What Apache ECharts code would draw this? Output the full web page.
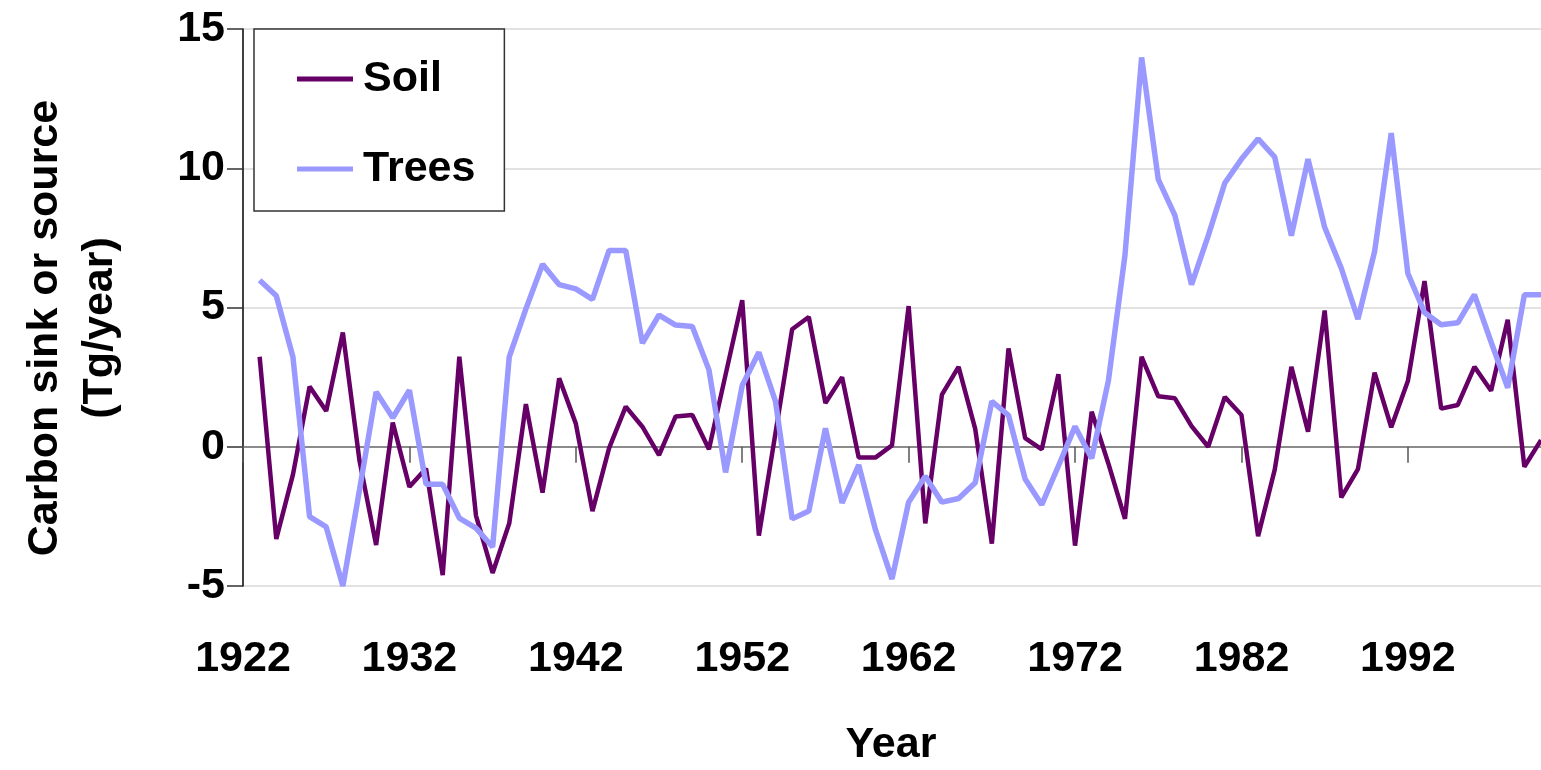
<!DOCTYPE html>
<html>
<head>
<meta charset="utf-8">
<script src="https://cdn.jsdelivr.net/npm/echarts@6/dist/echarts.min.js"></script>
<style>
  html, body { margin: 0; padding: 0; background: #fff; }
  #chart { width: 1541px; height: 770px; }
</style>
</head>
<body>
<div id="chart"></div>
<script>
// ---- Data ----
const years = [
  '1922','1923','1924','1925','1926','1927','1928','1929','1930','1931',
  '1932','1933','1934','1935','1936','1937','1938','1939','1940','1941',
  '1942','1943','1944','1945','1946','1947','1948','1949','1950','1951',
  '1952','1953','1954','1955','1956','1957','1958','1959','1960','1961',
  '1962','1963','1964','1965','1966','1967','1968','1969','1970','1971',
  '1972','1973','1974','1975','1976','1977','1978','1979','1980','1981',
  '1982','1983','1984','1985','1986','1987','1988','1989','1990','1991',
  '1992','1993','1994','1995','1996','1997','1998','1999','2000'
];
const soil = [
  null, 3.23, -3.31, -1.0, 2.16, 1.28, 4.10, -0.50, -3.53, 0.87,
  -1.44, -0.78, -4.61, 3.23, -2.47, -4.53, -2.75, 1.53, -1.65, 2.46,
  0.83, -2.31, -0.05, 1.44, 0.72, -0.30, 1.09, 1.14, -0.09, 2.59,
  5.26, -3.19, 0.50, 4.22, 4.66, 1.57, 2.50, -0.39, -0.39, 0.05,
  5.05, -2.75, 1.87, 2.87, 0.64, -3.48, 3.53, 0.31, -0.09, 2.60,
  -3.55, 1.26, -0.60, -2.59, 3.23, 1.81, 1.74, 0.74, 0.00, 1.79,
  1.14, -3.21, -0.82, 2.87, 0.54, 4.89, -1.82, -0.80, 2.66, 0.70,
  2.36, 5.95, 1.37, 1.50, 2.87, 2.01, 4.56, -0.72, 0.24
];
const trees = [
  null, 5.98, 5.42, 3.22, -2.51, -2.88, -5.00, -1.55, 1.97, 1.04,
  2.03, -1.35, -1.35, -2.56, -2.92, -3.60, 3.23, 4.95, 6.55, 5.82,
  5.67, 5.29, 7.05, 7.05, 3.72, 4.73, 4.37, 4.32, 2.76, -0.92,
  2.20, 3.39, 1.63, -2.59, -2.31, 0.66, -2.02, -0.65, -2.97, -4.75,
  -1.99, -1.06, -1.99, -1.86, -1.29, 1.63, 1.13, -1.16, -2.08, -0.69,
  0.73, -0.42, 2.36, 6.88, 13.98, 9.60, 8.31, 5.82, 7.57, 9.47,
  10.33, 11.06, 10.40, 7.58, 10.33, 7.88, 6.41, 4.58, 7.01, 11.26,
  6.22, 4.82, 4.38, 4.45, 5.46, 3.76, 2.12, 5.46, 5.46
];
const seriesNames = ['Soil', 'Trees'];
const yTitle = 'Carbon sink or source\n(Tg/year)';
const xTitle = 'Year';

// ---- Chart ----
const FONT = '"Liberation Sans", Arial, sans-serif';
const chart = echarts.init(document.getElementById('chart'), null, { renderer: 'canvas' });
chart.setOption({
  animation: false,
  backgroundColor: '#ffffff',
  grid: { left: 243, right: 0, top: 29, bottom: 184, containLabel: false },
  legend: {
    data: seriesNames,
    orient: 'vertical',
    left: 254,
    top: 29,
    padding: [28, 29, 20, 43],
    itemGap: 46,
    itemWidth: 56,
    itemHeight: 5,
    icon: 'rect',
    backgroundColor: '#ffffff',
    borderColor: '#333333',
    borderWidth: 1.5,
    textStyle: {
      fontFamily: FONT, fontSize: 43, fontWeight: 'bold', color: '#000',
      lineHeight: 44, padding: [0, 0, 0, 5]
    }
  },
  xAxis: [
    {
      type: 'category',
      data: years,
      boundaryGap: false,
      position: 'bottom',
      axisLine: { show: false, onZero: false },
      axisTick: { show: false },
      splitLine: { show: false },
      axisLabel: {
        interval: 9,
        margin: 52,
        fontFamily: FONT, fontSize: 43, fontWeight: 'bold', color: '#000'
      }
    },
    {
      type: 'category',
      data: years,
      boundaryGap: false,
      position: 'top',
      axisLine: { show: true, onZero: true, lineStyle: { color: '#6f6f6f', width: 1.5 } },
      axisTick: { show: true, inside: true, interval: 9, length: 16, lineStyle: { color: '#555', width: 1.5 } },
      axisLabel: { show: false },
      splitLine: { show: false }
    }
  ],
  yAxis: {
    type: 'value',
    min: -5,
    max: 15,
    interval: 5,
    axisLine: { show: true, lineStyle: { color: '#000', width: 1.5 } },
    axisTick: { show: true, length: 16, lineStyle: { color: '#333', width: 1.5 } },
    splitLine: { show: true, lineStyle: { color: '#d9d9d9', width: 1.5 } },
    axisLabel: {
      margin: 18,
      fontFamily: FONT, fontSize: 43, fontWeight: 'bold', color: '#000'
    }
  },
  series: [
    {
      name: seriesNames[0],
      type: 'line',
      xAxisIndex: 0,
      data: soil,
      color: '#660066',
      symbol: 'none',
      showSymbol: false,
      lineStyle: { color: '#660066', width: 4.5 },
      z: 3
    },
    {
      name: seriesNames[1],
      type: 'line',
      xAxisIndex: 0,
      data: trees,
      color: '#9999ff',
      symbol: 'none',
      showSymbol: false,
      lineStyle: { color: '#9999ff', width: 5.5 },
      z: 4
    }
  ],
  graphic: [
    {
      type: 'text',
      x: 73, y: 328,
      rotation: Math.PI / 2,
      style: {
        text: yTitle,
        font: 'bold 43px ' + FONT,
        fill: '#000',
        align: 'center',
        verticalAlign: 'middle',
        lineHeight: 55
      }
    },
    {
      type: 'text',
      x: 891, y: 745,
      style: {
        text: xTitle,
        font: 'bold 43px ' + FONT,
        fill: '#000',
        align: 'center',
        verticalAlign: 'middle'
      }
    }
  ]
});
</script>
</body>
</html>
